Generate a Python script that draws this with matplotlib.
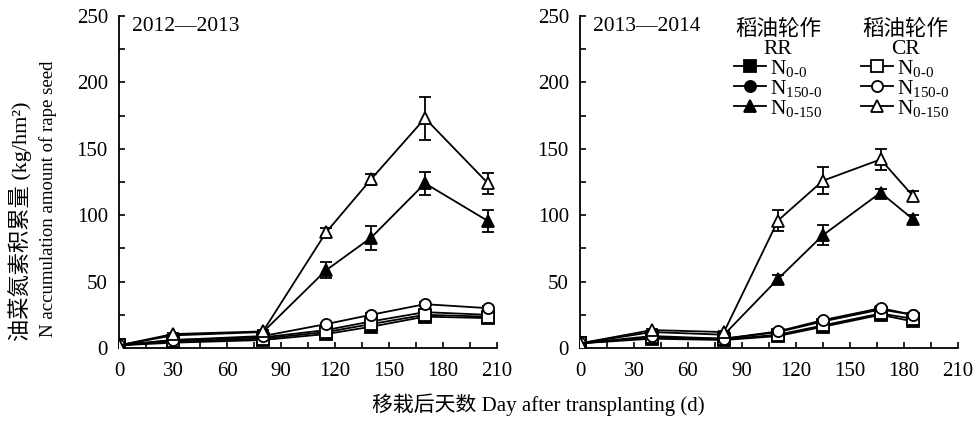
import matplotlib
matplotlib.use("Agg")
import matplotlib.pyplot as plt
from matplotlib.lines import Line2D
from matplotlib.ticker import MultipleLocator

plt.rcParams['font.family'] = ['Liberation Serif', 'Noto Sans CJK SC']
plt.rcParams['mathtext.fontset'] = 'custom'
plt.rcParams['mathtext.rm'] = 'Liberation Serif'
plt.rcParams['mathtext.it'] = 'Liberation Serif:italic'

# ---------------- data ----------------
days_1213 = [0, 30, 80, 115, 140, 170, 205]
rr_n00_1213 = [2, 4, 6, 10.5, 16, 23.6, 22.5]
rr_n1500_1213 = [2, 6, 8, 13.5, 20, 27, 25]
rr_n0150_1213 = [2, 9.5, 12, 58.5, 83, 124, 95.6]
cr_n00_1213 = [2, 5, 7, 12, 18, 25, 23.6]
cr_n1500_1213 = [2, 6, 9, 18, 25, 33, 30]
cr_n0150_1213 = [2, 10.5, 12.5, 87, 127, 173, 124]
err_small_1213 = [0.3, 0.5, 0.5, 1, 1, 1.5, 1.5]
err_rr_n0150_1213 = [0.3, 0.5, 1, 6, 9, 8.5, 8.5]
err_cr_n0150_1213 = [0.3, 0.5, 1, 3, 4, 16, 8]

days_1314 = [0, 40, 80, 110, 135, 167, 185]
rr_n00_1314 = [3.5, 7, 6, 9, 16, 25, 20]
rr_n1500_1314 = [3.5, 8, 7, 12, 20, 29, 25]
rr_n0150_1314 = [3.5, 12, 10, 52, 85, 117, 97]
cr_n00_1314 = [3.5, 8, 6.5, 10, 17, 26, 22]
cr_n1500_1314 = [3.5, 9, 7, 12.5, 21, 30, 25]
cr_n0150_1314 = [3.5, 13.5, 12, 96, 126, 142, 114.5]
err_small_1314 = [0.3, 0.5, 0.5, 1, 1, 2, 1.5]
err_rr_n0150_1314 = [0.3, 1, 1, 3, 7.5, 3, 3]
err_cr_n0150_1314 = [0.3, 1, 1, 8, 10, 8, 4]

panel_titles = ['2012—2013', '2013—2014']
treat_labels = [r'N$_{\mathrm{0\text{-}0}}$', r'N$_{\mathrm{150\text{-}0}}$', r'N$_{\mathrm{0\text{-}150}}$']
xticks = [0, 30, 60, 90, 120, 150, 180, 210]
yticks = [0, 50, 100, 150, 200, 250]

# ---------------- figure ----------------
W, H = 975, 421
fig = plt.figure(figsize=(W / 100, H / 100), dpi=100)
axL = fig.add_axes([119 / W, (H - 348) / H, 378 / W, 332 / H])
axR = fig.add_axes([580 / W, (H - 348) / H, 378 / W, 332 / H])

styles = [
    dict(marker='s', mfc='black'),
    dict(marker='o', mfc='black'),
    dict(marker='^', mfc='black'),
    dict(marker='s', mfc='white'),
    dict(marker='o', mfc='white'),
    dict(marker='^', mfc='white'),
]

def draw(ax, days, series, errs, title):
    order = [0, 3, 1, 4, 2, 5]
    for i in order:
        st = styles[i]
        ms = 9 if st['marker'] == '^' else 8
        ax.errorbar(days, series[i], yerr=errs[i], color='black', lw=1.3,
                    marker=st['marker'], mfc=st['mfc'], mec='black', mew=1.3,
                    ms=ms, capsize=4, capthick=1.3, elinewidth=1.3, zorder=3 + i)
    ax.set_xlim(0, 210)
    ax.set_ylim(0, 250)
    ax.set_xticks(xticks)
    ax.set_yticks(yticks)
    ax.xaxis.set_minor_locator(MultipleLocator(15))
    ax.yaxis.set_minor_locator(MultipleLocator(25))
    ax.tick_params(which='both', direction='in', width=1.2, labelsize=15,
                   top=False, right=False)
    ax.tick_params(which='major', length=4)
    ax.tick_params(axis='x', which='major', pad=10)
    ax.tick_params(axis='y', which='major', pad=8)
    ax.tick_params(which='minor', length=4)
    for s in ['top', 'right']:
        ax.spines[s].set_visible(False)
    for s in ['left', 'bottom']:
        ax.spines[s].set_linewidth(1.3)
    ax.text(0.035, 0.967, title, transform=ax.transAxes, fontsize=15.5,
            ha='left', va='center')

draw(axL, days_1213,
     [rr_n00_1213, rr_n1500_1213, rr_n0150_1213, cr_n00_1213, cr_n1500_1213, cr_n0150_1213],
     [err_small_1213, err_small_1213, err_rr_n0150_1213, err_small_1213, err_small_1213, err_cr_n0150_1213],
     panel_titles[0])
draw(axR, days_1314,
     [rr_n00_1314, rr_n1500_1314, rr_n0150_1314, cr_n00_1314, cr_n1500_1314, cr_n0150_1314],
     [err_small_1314, err_small_1314, err_rr_n0150_1314, err_small_1314, err_small_1314, err_cr_n0150_1314],
     panel_titles[1])

# legends
def make_handles(fill):
    hs = []
    for m in ['s', 'o', '^']:
        ms = 9 if m == '^' else 8
        hs.append(Line2D([], [], color='black', lw=1.3, marker=m, mfc=fill,
                         mec='black', mew=1.3, ms=ms))
    return hs

common = dict(loc='upper center', bbox_transform=fig.transFigure, frameon=False,
              fontsize=15.5, title_fontsize=15.5, handlelength=1.5,
              handletextpad=0.2, labelspacing=-0.05, borderpad=0)
legRR = fig.legend(make_handles('black'), treat_labels, title='稻油轮作\nRR',
                   bbox_to_anchor=(778 / W, 1 - 9 / H), **common)
legCR = fig.legend(make_handles('white'), treat_labels, title='稻油轮作\nCR',
                   bbox_to_anchor=(905 / W, 1 - 9 / H), **common)
for lg in (legRR, legCR):
    lg.get_title().set_multialignment('center')
    lg.get_title().set_linespacing(1.0)
    lg.set_zorder(20)

# axis labels
fig.text(20 / W, 1 - 341 / H, '油菜氮素积累量 (kg/hm²)', rotation=90,
         ha='center', va='bottom', fontsize=16)
fig.text(48 / W, 1 - 337 / H, 'N accumulation amount of rape seed', rotation=90,
         ha='center', va='bottom', fontsize=13.5)
fig.text(538 / W, 1 - 405 / H, '移栽后天数 Day after transplanting (d)',
         ha='center', va='center', fontsize=15)

fig.savefig('out.png', dpi=100)
